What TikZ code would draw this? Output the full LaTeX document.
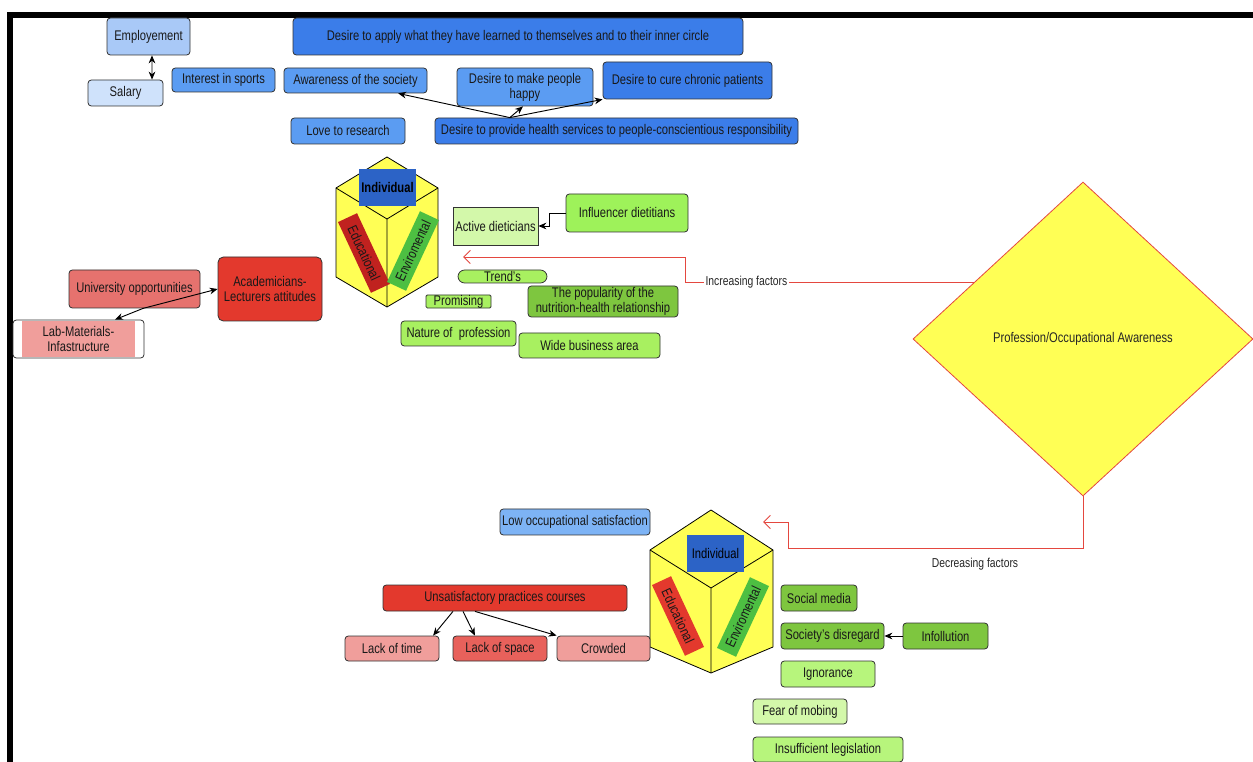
\documentclass[tikz,border=0pt]{standalone}
\usepackage{fontspec}
\setmainfont{Liberation Sans}[FakeStretch=0.8]
\usepackage{xcolor}
\usepackage{tikz}
\usetikzlibrary{shapes.geometric,arrows.meta,positioning,calc}

\definecolor{bluelt}{HTML}{A9C9F7}
\definecolor{bluepale}{HTML}{CFE2FB}
\definecolor{bluemid}{HTML}{5B9CF2}
\definecolor{bluedk}{HTML}{3B7DE9}
\definecolor{bluesky}{HTML}{7DB3F5}
\definecolor{blueind}{HTML}{2C63C6}
\definecolor{redmain}{HTML}{E3392D}
\definecolor{redmid}{HTML}{E6726E}
\definecolor{redsoft}{HTML}{E8615B}
\definecolor{redpale}{HTML}{F09E9B}
\definecolor{reddk}{HTML}{C0221F}
\definecolor{linered}{HTML}{E4473F}
\definecolor{greenlt}{HTML}{A8F060}
\definecolor{greenbr}{HTML}{9EF25A}
\definecolor{greendk}{HTML}{7EC63F}
\definecolor{greenpale}{HTML}{D3F8AA}
\definecolor{greensoft}{HTML}{B7F57C}
\definecolor{greenface}{HTML}{4DBF42}
\definecolor{cubeyel}{HTML}{FFFF55}

\begin{document}
\begin{tikzpicture}[x=0.75pt, y=-0.75pt, font=\fontsize{10.5}{11.4}\selectfont,
    box/.style={draw=black!80, line width=0.6pt, rounded corners=2.5pt, align=center, inner sep=1pt, text=black!90},
    sz/.style 2 args={minimum width=#1*0.75pt, minimum height=#2*0.75pt},
    face/.style={minimum width=78*0.75pt, minimum height=21*0.75pt, inner sep=0pt, text=black!90},
    arr/.style={-{Stealth[length=6pt,width=5pt]}, line width=0.7pt},
    redarr/.style={draw=linered, line width=0.7pt, -{Straight Barb[length=5pt,width=10pt]}},
    lbl/.style={font=\fontsize{9.7}{10.5}\selectfont, text=black!85},
    cube/.style={fill=cubeyel, draw=black, line width=0.6pt, line join=round}]

    \useasboundingbox (0,0) rectangle (1253,762);
    \fill[white] (0,0) rectangle (1253,762);
    % frame
    \fill[black] (7,12.5) rectangle (1253,18);
    \fill[black] (7,12.5) rectangle (13,762);

    % top: motives
    \node[box, fill=bluelt, sz={83}{37}] (employ) at (148.5,36.5) {Employement};
    \node[box, fill=bluepale, sz={75}{26}] (salary) at (125.5,93) {Salary};
    \node[box, fill=bluemid, sz={103}{24}] (sports) at (223.5,80) {Interest in sports};
    \node[box, fill=bluemid, sz={143}{25}] (society) at (355.5,80.5) {Awareness of the society};
    \node[box, fill=bluemid, sz={114}{26}] (research) at (348,131) {Love to research};
    \node[box, fill=bluedk, sz={450}{37}] (apply) at (518,36.5) {Desire to apply what they have learned to themselves and to their inner circle};
    \node[box, fill=bluemid, sz={136}{38}] (happy) at (525,87) {Desire to make people\\happy};
    \node[box, fill=bluedk, sz={169}{37}] (cure) at (687.5,80.5) {Desire to cure chronic patients};
    \node[box, fill=bluedk, sz={363}{26}] (provide) at (616.5,131) {Desire to provide health services to people-conscientious responsibility};

    \draw[{Stealth[length=6pt,width=5pt]}-{Stealth[length=6pt,width=5pt]}, line width=0.7pt] ([xshift=2.6pt]employ.south) -- ([xshift=19.9pt]salary.north);
    \draw[arr] ([xshift=-80pt]provide.north) -- ([xshift=32pt]society.south);
    \draw[arr] ([xshift=-80pt]provide.north) -- ([xshift=-1.5pt]happy.south);
    \draw[arr] ([xshift=-80pt]provide.north) -- (cure.south west);

    % upper cube
    \draw[cube] (387,157) -- (438,188) -- (438,277) -- (387,307) -- (336,277) -- (336,188) -- cycle;
    \draw[line width=0.6pt] (336,188) -- (387,219) -- (438,188) (387,219) -- (387,307);
    \node[fill=blueind, sz={57}{37}, inner sep=0pt] (ind1) at (387.5,187.5) {\textbf{Individual}};
    \node[face, fill=reddk, rotate=-65] (edu1) at (364,253) {Educational};
    \node[face, fill=greenface, rotate=65] (env1) at (413,251) {Enviromental};

    % increasing side
    \node[box, fill=greenpale, sz={85}{38}, rounded corners=0pt] (active) at (495.5,226) {Active dieticians};
    \node[box, fill=greenbr, sz={122}{38}] (influ) at (627,213) {Influencer dietitians};
    \node[box, fill=greenlt, sz={89}{13}, inner ysep=0pt, rounded corners=5pt] (trend) at (502.5,276.5) {Trend's};
    \node[box, fill=greenlt, sz={65}{13}, inner ysep=0pt, rounded corners=1pt] (promising) at (458.5,301.5) {Promising};
    \node[box, fill=greendk, sz={150}{31}, inner ysep=0pt, font=\fontsize{10.5}{10.8}\selectfont] (popular) at (603,301.5) {The popularity of the\\nutrition-health relationship};
    \node[box, fill=greenlt, sz={115}{25}] (nature) at (458.5,333.5) {Nature of\ \ profession};
    \node[box, fill=greenlt, sz={141}{25}] (wide) at (589.5,345.5) {Wide business area};
    \draw[arr] (influ.west) -- ++(-16,0) |- (active.east);

    % left: academic side
    \fill[redpale] (22,321) rectangle (135,357);
    \node[box, sz={131}{38}] (lab) at (78.5,339) {Lab-Materials-\\Infastructure};
    \node[box, fill=redmid, sz={131}{38}] (univ) at (134.5,289) {University opportunities};
    \node[box, fill=redmain, sz={104}{64}, rounded corners=4pt] (acad) at (270,289) {Academicians-\\Lecturers attitudes};
    \draw[arr] ([xshift=6.4pt]univ.south) -- (acad.west);
    \draw[arr] ([xshift=6.4pt]univ.south) -- ([xshift=27.4pt]lab.north);

    % main
    \node[diamond, draw=linered, fill=cubeyel, line width=0.6pt, sz={340}{314}, inner sep=0pt, text=black!85] (dia) at (1083,339) {Profession/Occupational Awareness};

    \coordinate (incstart) at ($(dia.west)!0.36!(dia.north)$);
    \coordinate (incend) at (463,257);
    \draw[redarr] (incstart) -- node[pos=0.79, lbl, fill=white, inner xsep=1pt, inner ysep=0pt] (inclbl) {Increasing factors} ++(-288,0) |- (incend);

    \coordinate (decend) at (763,522);
    \draw[redarr] (dia.south) |- ++(-295,52) |- (decend);
    \node[lbl] (declbl) at (975,564) {Decreasing factors};

    % lower cube
    \draw[cube] (711,510) -- (773,550) -- (773,647) -- (711,673) -- (650,647) -- (650,550) -- cycle;
    \draw[line width=0.6pt] (650,550) -- (711,588) -- (773,550) (711,588) -- (711,673);
    \node[fill=blueind, sz={57}{37}, inner sep=0pt] (ind2) at (715.5,553.5) {Individual};
    \node[face, fill=redmain, rotate=-65] (edu2) at (678,616) {Educational};
    \node[face, fill=greenface, rotate=65] (env2) at (743,617) {Enviromental};

    % decreasing side
    \node[box, fill=bluesky, sz={150}{26}] (lowsat) at (575,522) {Low occupational satisfaction};
    \node[box, fill=redmain, sz={244}{26}] (unsat) at (505,598) {Unsatisfactory practices courses};
    \node[box, fill=redpale, sz={94}{25}] (ltime) at (392,648.5) {Lack of time};
    \node[box, fill=redsoft, sz={94}{25}] (lspace) at (500,648.5) {Lack of space};
    \node[box, fill=redpale, sz={93}{25}] (crowded) at (603.5,648.5) {Crowded};
    \draw[arr] ([xshift=-39pt]unsat.south) -- ([xshift=30.8pt]ltime.north);
    \draw[arr] ([xshift=-31.5pt]unsat.south) -- ([xshift=-18.8pt]lspace.north);
    \draw[arr] ([xshift=-22.5pt]unsat.south) -- (crowded.north west);

    \node[box, fill=greendk, sz={76}{26}] (social) at (819,598) {Social media};
    \node[box, fill=greendk, sz={103}{26}] (disreg) at (832.5,636) {Society's disregard};
    \node[box, fill=greendk, sz={85}{26}] (infoll) at (945.5,636) {Infollution};
    \node[box, fill=greensoft, sz={94}{26}] (ignor) at (828,674) {Ignorance};
    \node[box, fill=greenpale, sz={94}{25}] (fear) at (800,711.5) {Fear of mobing};
    \node[box, fill=greensoft, sz={150}{25}] (insuff) at (828,749.5) {Insufficient legislation};
    \draw[arr] (infoll.west) -- (disreg.east);
\end{tikzpicture}
\end{document}
